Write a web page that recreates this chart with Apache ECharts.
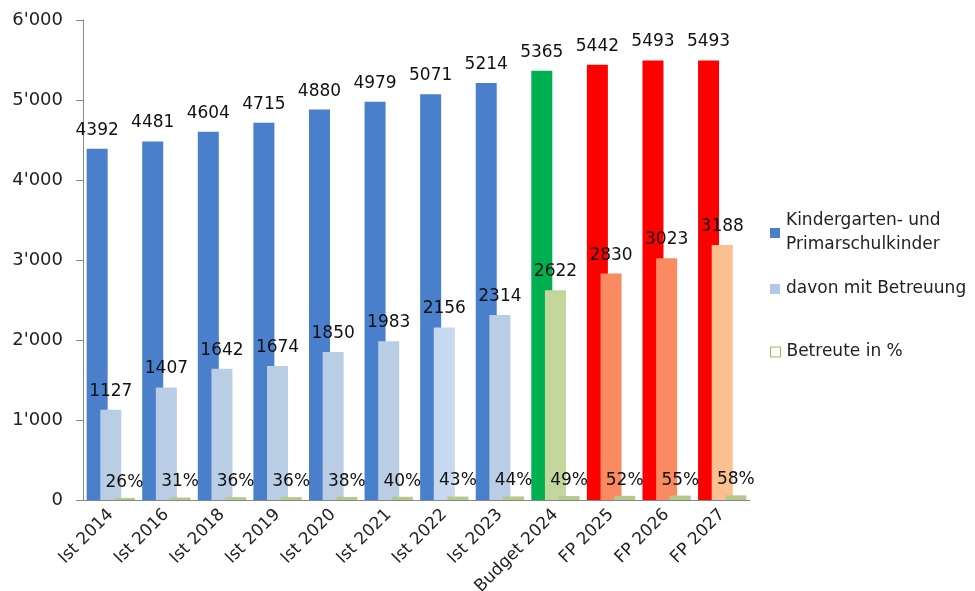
<!DOCTYPE html>
<html>
<head>
<meta charset="utf-8">
<script src="https://cdn.jsdelivr.net/npm/echarts@6/dist/echarts.min.js"></script>
<style>
  html, body { margin: 0; padding: 0; background: #fff; }
  #chart { width: 975px; height: 591px; }
</style>
</head>
<body>
<div id="chart"></div>
<script>
// Kategorien und Werte
var years = ['Ist 2014', 'Ist 2016', 'Ist 2018', 'Ist 2019', 'Ist 2020', 'Ist 2021', 'Ist 2022', 'Ist 2023', 'Budget 2024', 'FP 2025', 'FP 2026', 'FP 2027']
var kinder = [4392, 4481, 4604, 4715, 4880, 4979, 5071, 5214, 5365, 5442, 5493, 5493]
var betreut = [1127, 1407, 1642, 1674, 1850, 1983, 2156, 2314, 2622, 2830, 3023, 3188]
var prozent = [26, 31, 36, 36, 38, 40, 43, 44, 49, 52, 55, 58]
var yTicks = [0, 1000, 2000, 3000, 4000, 5000, 6000]

// Farben pro Balken
var kinderColors = ['#4A7FCB', '#4A7FCB', '#4A7FCB', '#4A7FCB', '#4A7FCB', '#4A7FCB', '#4A7FCB', '#4A7FCB', '#00B050', '#FF0000', '#FF0000', '#FF0000']
var betreutColors = ['#B9CDE5', '#B9CDE5', '#B9CDE5', '#B9CDE5', '#B9CDE5', '#B9CDE5', '#C6D9F1', '#B9CDE5', '#C3D69B', '#F98A62', '#F98A62', '#FAC08F']

var font = 'DejaVu Sans'
var nameKinder = 'Kindergarten- und\nPrimarschulkinder'
var nameBetreut = 'davon mit Betreuung'
var nameProzent = 'Betreute in %'

var chart = echarts.init(document.getElementById('chart'))

var labelStyle = {
  show: true,
  position: 'top',
  distance: 10,
  color: '#111',
  fontSize: 17,
  fontFamily: font
}

function legendAt(item, top) {
  return {
    data: [item],
    orient: 'vertical',
    left: 770,
    top: top,
    padding: 0,
    icon: 'rect',
    itemWidth: 10,
    itemHeight: 10,
    selectedMode: false,
    textStyle: { color: '#222', fontSize: 17, fontFamily: font, lineHeight: 24, padding: [0, 0, 0, 1] }
  }
}

chart.setOption({
  backgroundColor: '#fff',
  animation: false,
  legend: [
    legendAt(nameKinder, 209),
    legendAt(nameBetreut, 277),
    legendAt(
      { name: nameProzent, itemStyle: { color: '#fff', borderColor: '#9BBB59', borderWidth: 1 } },
      340
    )
  ],
  grid: {
    left: 83,
    right: 225,
    top: 20,
    bottom: 91,
    outerBoundsMode: 'none'
  },
  xAxis: {
    type: 'category',
    data: years,
    axisLine: { lineStyle: { color: '#888' } },
    axisTick: { show: false },
    axisLabel: {
      rotate: 45,
      interval: 0,
      margin: 12,
      color: '#222',
      fontSize: 17,
      fontFamily: font
    }
  },
  yAxis: {
    type: 'value',
    min: yTicks[0],
    max: yTicks[yTicks.length - 1],
    interval: 1000,
    splitLine: { show: false },
    axisLine: { show: true, lineStyle: { color: '#888' } },
    axisTick: { show: true, length: 7, lineStyle: { color: '#888' } },
    axisLabel: {
      margin: 20,
      color: '#222',
      fontSize: 18,
      fontFamily: font,
      formatter: function (v) {
        return String(v).replace(/\B(?=(\d{3})+(?!\d))/g, "'")
      }
    }
  },
  series: [
    {
      name: nameKinder,
      type: 'bar',
      barWidth: 21,
      barGap: '-35%',
      itemStyle: { color: '#4A7FCB' },
      label: labelStyle,
      data: kinder.map(function (v, i) {
        return { value: v, itemStyle: { color: kinderColors[i] } }
      })
    },
    {
      name: nameBetreut,
      type: 'bar',
      barWidth: 21,
      barGap: '-35%',
      itemStyle: { color: '#B4C7E7' },
      label: labelStyle,
      data: betreut.map(function (v, i) {
        return { value: v, itemStyle: { color: betreutColors[i] } }
      })
    },
    {
      name: nameProzent,
      type: 'bar',
      barWidth: 21,
      barGap: '-35%',
      itemStyle: { color: '#B5C98A' },
      label: Object.assign({}, labelStyle, { distance: 7, formatter: '{c}%' }),
      data: prozent
    }
  ]
})
</script>
</body>
</html>
